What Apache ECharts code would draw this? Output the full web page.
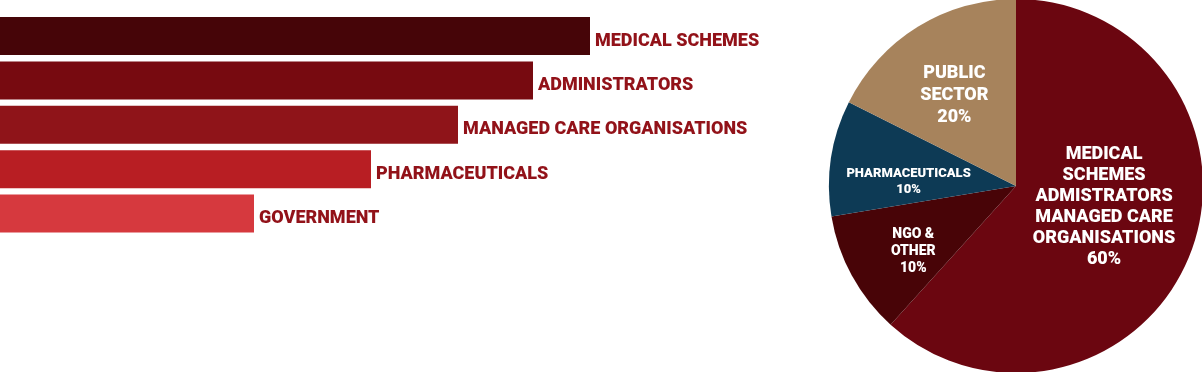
<!DOCTYPE html>
<html>
<head>
<meta charset="utf-8">
<script src="https://cdn.jsdelivr.net/npm/echarts@6/dist/echarts.min.js"></script>
<style>
html,body{margin:0;padding:0;background:#fff;}
#c{width:1202px;height:372px;}
</style>
</head>
<body>
<div id="c"></div>
<script>
// Bar chart data (relative lengths)
const barCategories = ['MEDICAL SCHEMES', 'ADMINISTRATORS', 'MANAGED CARE ORGANISATIONS', 'PHARMACEUTICALS', 'GOVERNMENT'];
const barValues = [590, 533, 458, 371, 254];

// Pie chart data (slice sizes as drawn, labels as printed)
const pieNames = ['MEDICAL\nSCHEMES\nADMISTRATORS\nMANAGED CARE\nORGANISATIONS', 'NGO &\nOTHER', 'PHARMACEUTICALS', 'PUBLIC\nSECTOR'];
const pieValues = [61.7, 10.7, 10.0, 17.6];
const pieLabels = ['60%', '10%', '10%', '20%'];

const barColors = ['#460508', '#770a10', '#8f1419', '#b81e23', '#d6393e'];
const pieColors = ['#6b0610', '#480407', '#0d3a55', '#a7835c'];
const pieLabelStyles = [
  {fontSize: 18, lineHeight: 21, offset: [-2, -14]},
  {fontSize: 14, lineHeight: 17, offset: [-18, 19]},
  {fontSize: 13, lineHeight: 16, offset: [-12, 10]},
  {fontSize: 18, lineHeight: 22, offset: [-11, -8]}
];

const chart = echarts.init(document.getElementById('c'), null, {renderer: 'canvas'});
chart.setOption({
  animation: false,
  backgroundColor: '#ffffff',
  grid: {left: 0, top: 13.8, width: 800, height: 222, containLabel: false},
  xAxis: {type: 'value', min: 0, max: 800, show: false},
  yAxis: {type: 'category', data: barCategories, inverse: true, show: false},
  series: [
    {
      type: 'bar',
      barWidth: 38,
      data: barValues.map((v, i) => ({value: v, itemStyle: {color: barColors[i]}})),
      label: {
        show: true,
        position: 'right',
        distance: 5,
        offset: [0, 5],
        formatter: p => barCategories[p.dataIndex],
        color: '#921219',
        fontFamily: 'Roboto',
        fontWeight: 900,
        fontSize: 18
      }
    },
    {
      type: 'pie',
      center: [1016, 186],
      radius: 187,
      startAngle: 90,
      clockwise: true,
      silent: true,
      itemStyle: {borderWidth: 0},
      labelLine: {show: false},
      data: pieValues.map((v, i) => ({
        value: v,
        name: pieNames[i],
        itemStyle: {color: pieColors[i]},
        label: Object.assign({
          show: true,
          position: 'inside',
          color: '#ffffff',
          fontFamily: 'Roboto',
          fontWeight: 900,
          align: 'center',
          formatter: pieNames[i] + '\n' + pieLabels[i]
        }, pieLabelStyles[i])
      }))
    }
  ]
});
</script>
</body>
</html>
